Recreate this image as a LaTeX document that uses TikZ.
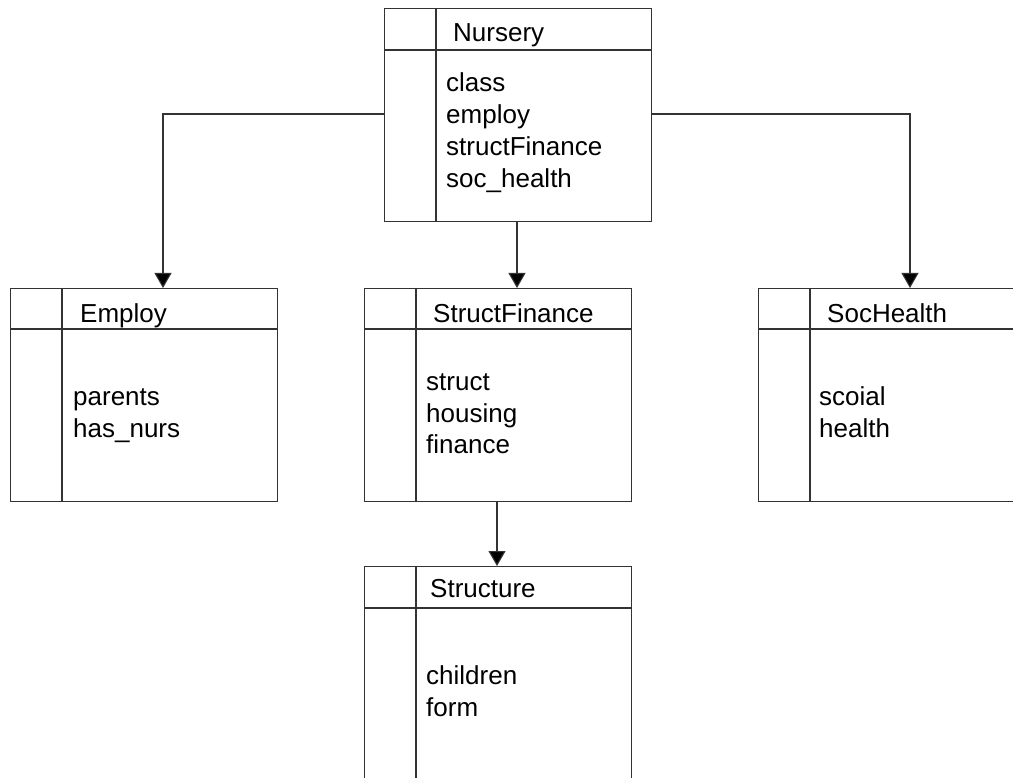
\documentclass[tikz,border=0pt]{standalone}
\usepackage{fontspec}
\setmainfont{Liberation Sans}
\usetikzlibrary{arrows.meta}
\definecolor{rule}{HTML}{333333}
\begin{document}
\begin{tikzpicture}[x=1pt,y=-1pt,
  classbox/.style={draw=rule, line width=1.1pt, minimum width=267pt, minimum height=213pt,
    inner sep=0pt, anchor=north west, fill=white},
  label/.style={anchor=base west, inner sep=0pt, font=\fontsize{26}{30}\selectfont},
  link/.style={draw=rule, line width=1.1pt,
    -{Triangle[width=17pt,length=15pt,fill=black]}},
  rulebar/.style={draw=rule, line width=1.1pt}]
\clip (0,0) rectangle (1013,778);
\fill[white] (0,0) rectangle (1013,778);

% class boxes
\node[classbox] (nursery) at (384,8) {};
\node[classbox] (employ) at (10,288) {};
\node[classbox] (finance) at (364,288) {};
\node[classbox] (health) at (758,288) {};
\node[classbox] (structure) at (364,566) {};

% header line and left column of each box
\foreach \b/\h in {nursery/42, employ/41, finance/41, health/41, structure/42} {
  \draw[rulebar] ([yshift=-\h pt]\b.north west) -- ([yshift=-\h pt]\b.north east);
  \draw[rulebar] ([xshift=52pt]\b.north west) -- ([xshift=52pt]\b.south west);
}

% Nursery
\node[label] (nursery-title) at (453,42) {Nursery};
\node[label] (nursery-a) at (446,92) {class};
\node[label] (nursery-b) at (446,124) {employ};
\node[label] (nursery-c) at (446,156) {structFinance};
\node[label] (nursery-d) at (446,188) {soc\_health};

% Employ
\node[label] (employ-title) at (80,323) {Employ};
\node[label] (employ-a) at (73,405) {parents};
\node[label] (employ-b) at (73,437) {has\_nurs};

% StructFinance
\node[label] (finance-title) at (433,323) {StructFinance};
\node[label] (finance-a) at (426,390) {struct};
\node[label] (finance-b) at (426,422) {housing};
\node[label] (finance-c) at (426,453) {finance};

% SocHealth
\node[label] (health-title) at (827,323) {SocHealth};
\node[label] (health-a) at (819,406) {scoial};
\node[label] (health-b) at (819,437) {health};

% Structure
\node[label] (structure-title) at (430,597) {Structure};
\node[label] (structure-a) at (426,684) {children};
\node[label] (structure-b) at (426,716) {form};

% connectors
\draw[link] (nursery.west |- 0,114) -| (employ.north -| 163,0);
\draw[link] (nursery.south -| 517,0) -- (finance.north -| 517,0);
\draw[link] (nursery.east |- 0,114) -| (health.north -| 910,0);
\draw[link] (finance.south -| 497,0) -- (structure.north -| 497,0);
\end{tikzpicture}
\end{document}
